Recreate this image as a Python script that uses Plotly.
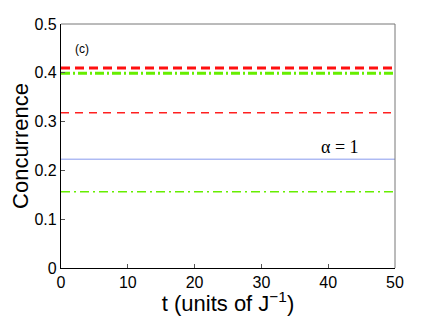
import plotly.graph_objects as go

t = [0, 50]
thick_red = [0.41, 0.41]
thick_green = [0.399, 0.399]
thin_red = [0.318, 0.318]
blue = [0.223, 0.223]
thin_green = [0.156, 0.156]

fig = go.Figure()

fig.add_trace(go.Scatter(x=t, y=thick_red, mode='lines',
                         line=dict(color='#ff1010', width=3, dash='9px,5px')))
fig.add_trace(go.Scatter(x=t, y=thick_green, mode='lines',
                         line=dict(color='#66ee00', width=3, dash='9px,3px,2px,3px')))
fig.add_trace(go.Scatter(x=t, y=thin_red, mode='lines',
                         line=dict(color='#ff2020', width=1.5, dash='8px,6px')))
fig.add_trace(go.Scatter(x=t, y=blue, mode='lines',
                         line=dict(color='#8899ee', width=1)))
fig.add_trace(go.Scatter(x=t, y=thin_green, mode='lines',
                         line=dict(color='#66ee00', width=1.5, dash='9px,4px,2px,4px')))

fig.add_annotation(x=3.1, y=0.449, text='(c)', showarrow=False,
                   font=dict(family='Arial', size=12, color='black'))
fig.add_annotation(x=41.8, y=0.248, text='α = 1', showarrow=False,
                   font=dict(family='Liberation Serif', size=18, color='black'))

axis_common = dict(
    showgrid=False, zeroline=False, ticks='inside', ticklen=4,
    tickcolor='#555555', showline=True, mirror=False,
    linecolor='black', linewidth=1.2, automargin=False,
    tickfont=dict(family='Arial', size=16, color='black'),
)

# the page body has an 8px margin, so the figure is a bit smaller than the window
fig.update_layout(
    width=420, height=308,
    margin=dict(l=53, r=33, t=16, b=48),
    plot_bgcolor='white', paper_bgcolor='white',
    showlegend=False,
    xaxis=dict(axis_common, range=[0, 50], tickvals=[0, 10, 20, 30, 40, 50],
               title=dict(text='t (units of J<sup>−1</sup>)', standoff=3,
                          font=dict(family='Arial', size=22, color='black'))),
    yaxis=dict(axis_common, range=[0, 0.5],
               tickvals=[0, 0.1, 0.2, 0.3, 0.4, 0.5],
               ticktext=['0', '0.1', '0.2', '0.3', '0.4', '0.5'],
               title=dict(text='Concurrence', standoff=0,
                          font=dict(family='Arial', size=22, color='black'))),
    shapes=[
        dict(type='line', xref='paper', yref='paper', x0=0, x1=1, y0=1, y1=1,
             line=dict(color='#777777', width=1)),
        dict(type='line', xref='paper', yref='paper', x0=1, x1=1, y0=0, y1=1,
             line=dict(color='#777777', width=1)),
    ],
)

fig.write_html('out.html')
